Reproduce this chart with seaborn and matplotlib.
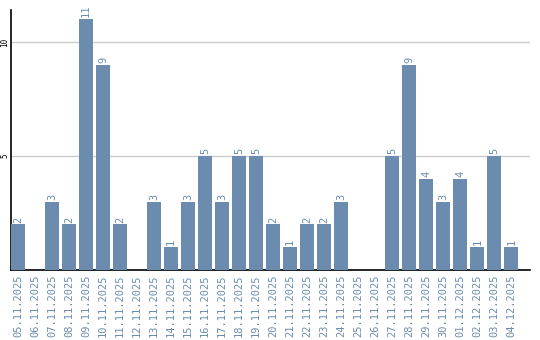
import matplotlib
matplotlib.use("Agg")
import matplotlib.pyplot as plt
import seaborn as sns
import pandas as pd

dates = ["05.11.2025", "06.11.2025", "07.11.2025", "08.11.2025", "09.11.2025",
         "10.11.2025", "11.11.2025", "12.11.2025", "13.11.2025", "14.11.2025",
         "15.11.2025", "16.11.2025", "17.11.2025", "18.11.2025", "19.11.2025",
         "20.11.2025", "21.11.2025", "22.11.2025", "23.11.2025", "24.11.2025",
         "25.11.2025", "26.11.2025", "27.11.2025", "28.11.2025", "29.11.2025",
         "30.11.2025", "01.12.2025", "02.12.2025", "03.12.2025", "04.12.2025"]
counts = [2, 0, 3, 2, 11, 9, 2, 0, 3, 1, 3, 5, 3, 5, 5, 2, 1, 2, 2, 3,
          0, 0, 5, 9, 4, 3, 4, 1, 5, 1]
yticks = [5, 10]

df = pd.DataFrame({"date": dates, "count": counts})

sns.set_style("white")
bar_color = "#6b8cae"
label_color = "#6b8cae"

fig = plt.figure(figsize=(5.4, 3.4), dpi=100)
ax = fig.add_axes([11 / 540, 70 / 340, 519 / 540, 260 / 340])

sns.barplot(data=df, x="date", y="count", color=bar_color, width=14 / 17,
            saturation=1, ax=ax, zorder=3, linewidth=0, edgecolor="none")

ax.set_xlim(-0.41, 30.1)
ax.set_ylim(0, 11.4)
ax.set_yticks(yticks)
ax.set_yticklabels([str(t) for t in yticks], rotation=90, va="center",
                   fontsize=5.5, family="DejaVu Sans Mono", color="black")
ax.yaxis.grid(True, color="#cccccc", linewidth=1, zorder=0)
ax.set_axisbelow(True)
ax.tick_params(axis="y", length=0, pad=1)
ax.tick_params(axis="x", length=0, pad=3)
ax.set_xticks(range(len(dates)))
ax.set_xticklabels(dates, rotation=90, fontsize=7.5, family="DejaVu Sans Mono",
                   color=label_color)
ax.set_xlabel("")
ax.set_ylabel("")

for s in ["top", "right"]:
    ax.spines[s].set_visible(False)
for s in ["left", "bottom"]:
    ax.spines[s].set_color("black")
    ax.spines[s].set_linewidth(1.2)

for i, v in enumerate(counts):
    if v > 0:
        ax.text(i, v + 0.08, str(v), rotation=90, ha="center", va="bottom",
                fontsize=7.5, family="DejaVu Sans Mono", color=label_color)

fig.savefig("out.png", dpi=100)
